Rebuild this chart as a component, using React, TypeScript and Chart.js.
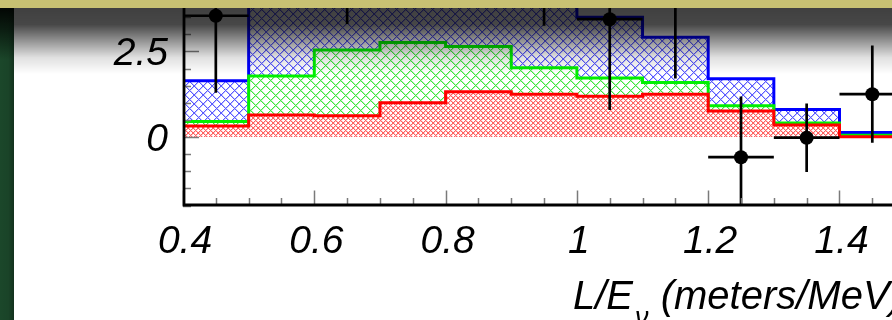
import React, { useEffect, useRef } from "react";
import { Chart, registerables } from "chart.js";

Chart.register(...registerables);

// Histogram bin edges (L/E, meters/MeV)
const binEdges = [0.4, 0.5, 0.6, 0.7, 0.8, 0.9, 1.0, 1.1, 1.2, 1.3, 1.4, 1.5];
// Stacked components (cumulative heights per bin)
const redValues = [0.32, 0.64, 0.62, 1.0, 1.32, 1.25, 1.19, 1.25, 0.76, 0.35, 0.01];
const greenValues = [0.45, 1.78, 2.54, 2.76, 2.64, 2.02, 1.72, 1.59, 0.91, 0.41, 0.05];
const blueValues = [1.64, 5.4, 5.9, 6.2, 5.8, 5.0, 3.5, 2.91, 1.7, 0.8, 0.13];
// Data points with symmetric errors
const pointX = [0.45, 0.55, 0.65, 0.75, 0.85, 0.95, 1.05, 1.15, 1.25, 1.35, 1.45];
const pointY = [3.54, 6.3, 5.6, 7.0, 6.6, 5.5, 3.44, 4.3, -0.59, -0.02, 1.25];
const pointErr = [2.25, 2.4, 2.3, 2.6, 2.5, 2.25, 2.65, 2.59, 1.77, 1.0, 1.42];
const binHalfWidth = 0.05;
// Axes
const xRange = [0.4, 1.48];
const yRange = [-2, 4];
const xMajorTicks = [0.4, 0.6, 0.8, 1.0, 1.2, 1.4];
const xTickLabels = ["0.4", "0.6", "0.8", "1", "1.2", "1.4"];
const xMinorStep = 0.05;
const yMajorTicks = [0, 2.5];
const yTickLabels = ["0", "2.5"];
const yMinorStep = 0.5;
const xTitleParts = ["L/E", "ν", " (meters/MeV)"];

const FONT = '"Liberation Sans", Arial, Helvetica, sans-serif';

function stepPoints(values: number[]) {
  const pts: { x: number; y: number }[] = [{ x: binEdges[0], y: 0 }];
  values.forEach((v, i) => pts.push({ x: binEdges[i], y: v }));
  pts.push({ x: binEdges[binEdges.length - 1], y: values[values.length - 1] });
  return pts;
}

function makeHatch(color: string, soft: string, p: number): CanvasPattern | string {
  const c = document.createElement("canvas");
  c.width = p;
  c.height = p;
  const g = c.getContext("2d");
  if (!g) return "#fff";
  g.fillStyle = "#ffffff";
  g.fillRect(0, 0, p, p);
  for (let y = 0; y < p; y++) {
    for (let x = 0; x < p; x++) {
      const d1 = (x + y) % p;
      const d2 = (x - y + p) % p;
      if (d1 === 0 || d2 === 0) {
        g.fillStyle = color;
        g.fillRect(x, y, 1, 1);
      } else if (d1 === 1 || d2 === 1) {
        g.fillStyle = soft;
        g.fillRect(x, y, 1, 1);
      }
    }
  }
  const pat = g.createPattern(c, "repeat");
  return pat || "#fff";
}

const framePlugin = {
  id: "frame",
  afterDatasetsDraw(chart: any) {
    const ctx = chart.ctx;
    const xs = chart.scales.x;
    const ys = chart.scales.y;
    const a = chart.chartArea;
    ctx.save();
    ctx.beginPath();
    ctx.rect(a.left, a.top, a.right - a.left, a.bottom - a.top);
    ctx.clip();
    ctx.strokeStyle = "#000";
    ctx.lineWidth = 2.7;
    for (let i = 0; i < pointX.length; i++) {
      const cx = xs.getPixelForValue(pointX[i]);
      const cy = ys.getPixelForValue(pointY[i]);
      ctx.beginPath();
      ctx.moveTo(xs.getPixelForValue(pointX[i] - binHalfWidth), cy);
      ctx.lineTo(xs.getPixelForValue(pointX[i] + binHalfWidth), cy);
      ctx.moveTo(cx, ys.getPixelForValue(pointY[i] - pointErr[i]));
      ctx.lineTo(cx, ys.getPixelForValue(pointY[i] + pointErr[i]));
      ctx.stroke();
      ctx.beginPath();
      ctx.arc(cx, cy, 7, 0, Math.PI * 2);
      ctx.fillStyle = "#000";
      ctx.fill();
    }
    ctx.restore();
  },
  afterDraw(chart: any) {
    const ctx = chart.ctx;
    const xs = chart.scales.x;
    const ys = chart.scales.y;
    const a = chart.chartArea;
    const W = chart.width;
    ctx.save();
    // ticks
    ctx.strokeStyle = "#7a7a7a";
    ctx.lineWidth = 1.5;
    const nx = Math.round((xRange[1] - xRange[0]) / xMinorStep);
    for (let i = 0; i <= nx; i++) {
      const v = xRange[0] + i * xMinorStep;
      const major = xMajorTicks.some((t) => Math.abs(t - v) < 1e-6);
      const px = Math.round(xs.getPixelForValue(v)) + 0.5;
      ctx.beginPath();
      ctx.moveTo(px, a.bottom);
      ctx.lineTo(px, a.bottom - (major ? 15 : 7.5));
      ctx.stroke();
    }
    const ny = Math.round((yRange[1] - yRange[0]) / yMinorStep);
    for (let i = 0; i <= ny; i++) {
      const v = yRange[0] + i * yMinorStep;
      const major = yMajorTicks.some((t) => Math.abs(t - v) < 1e-6);
      const py = Math.round(ys.getPixelForValue(v)) + 0.5;
      ctx.beginPath();
      ctx.moveTo(a.left, py);
      ctx.lineTo(a.left + (major ? 16 : 8), py);
      ctx.stroke();
    }
    // axis lines
    ctx.strokeStyle = "#000";
    ctx.lineWidth = 2.8;
    ctx.beginPath();
    ctx.moveTo(a.left + 1, a.top);
    ctx.lineTo(a.left + 1, a.bottom - 0.5);
    ctx.lineTo(a.right, a.bottom - 0.5);
    ctx.stroke();
    // tick labels
    ctx.fillStyle = "#000";
    ctx.font = `italic 39px ${FONT}`;
    ctx.textAlign = "center";
    ctx.textBaseline = "alphabetic";
    xMajorTicks.forEach((t, i) => {
      ctx.fillText(xTickLabels[i], xs.getPixelForValue(t) + 2, 253);
    });
    ctx.textAlign = "right";
    yMajorTicks.forEach((t, i) => {
      ctx.fillText(yTickLabels[i], 168, ys.getPixelForValue(t) + 14);
    });
    // x title
    ctx.textAlign = "left";
    let tx = 573;
    ctx.font = `italic 40px ${FONT}`;
    ctx.fillText(xTitleParts[0], tx, 309);
    tx += ctx.measureText(xTitleParts[0]).width + 2;
    ctx.font = `italic 27px ${FONT}`;
    ctx.fillText(xTitleParts[1], tx, 326);
    tx += ctx.measureText(xTitleParts[1]).width + 1;
    ctx.font = `italic 40px ${FONT}`;
    ctx.fillText(xTitleParts[2], tx, 309);

    // dark top gradient overlay
    const g = ctx.createLinearGradient(0, 8, 0, 74);
    g.addColorStop(0, "rgba(0,0,0,0.75)");
    g.addColorStop(0.25, "rgba(0,0,0,0.72)");
    g.addColorStop(0.5, "rgba(0,0,0,0.42)");
    g.addColorStop(0.75, "rgba(0,0,0,0.12)");
    g.addColorStop(1, "rgba(0,0,0,0)");
    ctx.fillStyle = g;
    ctx.fillRect(14, 8, W - 14, 66);

    // left green strip
    ctx.fillStyle = "#1b472a";
    ctx.fillRect(0, 8, 14, chart.height - 8);
    const gv = ctx.createLinearGradient(0, 8, 0, 60);
    gv.addColorStop(0, "rgba(0,0,0,0.92)");
    gv.addColorStop(0.4, "rgba(0,0,0,0.6)");
    gv.addColorStop(1, "rgba(0,0,0,0)");
    ctx.fillStyle = gv;
    ctx.fillRect(0, 8, 14, 52);
    const gh = ctx.createLinearGradient(0, 0, 14, 0);
    gh.addColorStop(0, "rgba(0,0,0,0)");
    gh.addColorStop(0.6, "rgba(0,0,0,0.05)");
    gh.addColorStop(1, "rgba(0,0,0,0.3)");
    ctx.fillStyle = gh;
    ctx.fillRect(0, 8, 14, chart.height - 8);

    // top khaki bar
    ctx.fillStyle = "#c8c173";
    ctx.fillRect(0, 0, W, 8);
    ctx.restore();
  },
};

export default function App() {
  const ref = useRef<HTMLCanvasElement | null>(null);
  useEffect(() => {
    document.body.style.margin = "0";
    const canvas = ref.current;
    if (!canvas) return;
    const chart = new Chart(canvas, {
      type: "line",
      data: {
        datasets: [
          {
            label: "blue",
            data: stepPoints(blueValues),
            stepped: true,
            fill: "origin",
            backgroundColor: makeHatch("#5a5aff", "#c4c4ff", 9) as any,
            borderColor: "#0000ff",
            borderWidth: 3,
            pointRadius: 0,
            order: 4,
          },
          {
            label: "green",
            data: stepPoints(greenValues),
            stepped: true,
            fill: "origin",
            backgroundColor: makeHatch("#3ee63e", "#b8f5b8", 10) as any,
            borderColor: "#00f000",
            borderWidth: 3,
            pointRadius: 0,
            order: 3,
          },
          {
            label: "red",
            data: stepPoints(redValues),
            stepped: true,
            fill: "origin",
            backgroundColor: makeHatch("#ff6060", "#ffc4c4", 5) as any,
            borderColor: "#ff0000",
            borderWidth: 3,
            pointRadius: 0,
            order: 2,
          },
        ],
      },
      options: {
        animation: false,
        responsive: false,
        events: [],
        layout: { padding: { left: 183, right: 0, top: 0, bottom: 114.5 } },
        scales: {
          x: { type: "linear", min: xRange[0], max: xRange[1], display: false },
          y: { type: "linear", min: yRange[0], max: yRange[1], display: false },
        },
        plugins: { legend: { display: false }, tooltip: { enabled: false } },
      },
      plugins: [framePlugin],
    });
    return () => chart.destroy();
  }, []);
  return (
    <div style={{ position: "fixed", left: 0, top: 0, width: 892, height: 320, background: "#fff" }}>
      <canvas ref={ref} width={892} height={320} style={{ display: "block" }} />
    </div>
  );
}
